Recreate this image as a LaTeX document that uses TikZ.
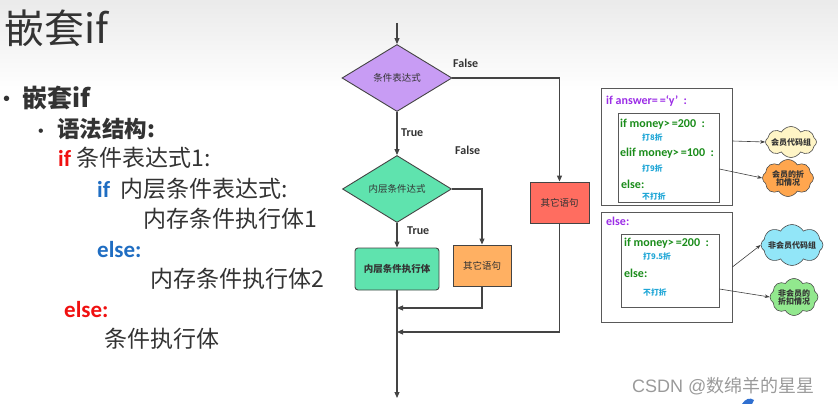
\documentclass[tikz,border=0pt]{standalone}
\usepackage{fontspec}
\setmainfont{Noto Sans CJK SC}
\newfontfamily\lat{Carlito}
\newfontfamily\wm{Liberation Sans}
\usetikzlibrary{shapes.geometric,shapes.symbols,arrows.meta}

\definecolor{ink}{HTML}{333333}
\definecolor{flowline}{HTML}{444444}
\definecolor{ifred}{HTML}{F01010}
\definecolor{ifblue}{HTML}{1F6DC2}
\definecolor{purplefill}{HTML}{C89CF4}
\definecolor{mintfill}{HTML}{5FE3AE}
\definecolor{orangefill}{HTML}{FFB062}
\definecolor{redfill}{HTML}{FF6D60}
\definecolor{codepurple}{HTML}{9B2DE6}
\definecolor{codegreen}{HTML}{1A8C1A}
\definecolor{codecyan}{HTML}{1FA6D6}
\definecolor{cloudyellow}{HTML}{FFF5C6}
\definecolor{cloudorange}{HTML}{FFA64E}
\definecolor{cloudblue}{HTML}{92E6F8}
\definecolor{cloudgreen}{HTML}{92E88E}
\definecolor{markgray}{HTML}{9A9A9A}
\definecolor{logoblue}{HTML}{2F6FD0}

\newcommand{\fsz}[1]{\fontsize{#1}{#1}\selectfont}

\tikzset{
  txt/.style={anchor=base west, inner sep=0pt, text=ink},
  flow/.style={draw=flowline, line width=1.1pt, -{Triangle[length=6pt,width=5pt]}},
  decision/.style={diamond, draw=flowline, line width=0.9pt, inner sep=0pt,
    aspect=1.6, font=\fsz{9.5}, text=ink},
  procbox/.style={rectangle, draw=flowline, line width=0.9pt, inner sep=0pt,
    font=\fsz{9.5}, text=ink},
  tflabel/.style={anchor=base west, inner sep=0pt, font=\lat\bfseries\fsz{12}, text=ink},
  panel/.style={rectangle, draw=black!65, line width=0.8pt, inner sep=0pt},
  code/.style={anchor=base west, inner sep=0pt, font=\lat\bfseries\fsz{12}},
  note/.style={anchor=base west, inner sep=0pt, font=\bfseries\fsz{7.8}, text=codecyan},
  bubble/.style={cloud, cloud puffs=8, cloud puff arc=120, cloud ignores aspect,
    draw=black!70, line width=0.6pt, inner sep=0pt},
  bubbletext/.style={font=\bfseries\fsz{8}, text=ink, align=center},
  link/.style={draw=black!75, line width=0.6pt, -{Stealth[length=5pt,width=3.5pt]}}
}

\begin{document}
\begin{tikzpicture}[x=1pt,y=-1pt]
\useasboundingbox (0,0) rectangle (838,404);
\shade[top color=gray!16, bottom color=white] (0,0) rectangle (838,92);

% ---------- slide text ----------
\node[txt] (title) at (4,44) {\fsz{40}嵌套if};
\node[txt] (b1) at (3,106) {\wm\fsz{20}•};
\node[txt] (h1) at (22,107) {\fsz{25}\bfseries 嵌套if};
\node[txt] (b2) at (38,136) {\wm\fsz{16}•};
\node[txt] (h2) at (57,137) {\fsz{22.5}\bfseries 语法结构:};

\node[txt] (l1) at (58,166) {\fsz{23}{\lat\bfseries\color{ifred}\fsz{23}if} 条件表达式1:};
\node[txt] (l2) at (97,197) {\fsz{23}{\lat\bfseries\color{ifblue}\fsz{23}if}\hspace{10pt}内层条件表达式:};
\node[txt] (l3) at (143,227) {\fsz{23}内存条件执行体1};
\node[txt] (l4) at (97,257) {\lat\bfseries\fsz{23}\color{ifblue}else:};
\node[txt] (l5) at (150,287) {\fsz{23}内存条件执行体2};
\node[txt] (l6) at (64,317) {\lat\bfseries\fsz{23}\color{ifred}else:};
\node[txt] (l7) at (104,347) {\fsz{23}条件执行体};

% ---------- flowchart ----------
\coordinate (start) at (397,23);
\node[decision, fill=purplefill, minimum width=110pt, minimum height=67pt] (d1) at (397,78) {条件表达式};
\node[decision, fill=mintfill, minimum width=109pt, minimum height=67pt] (d2) at (397,189) {内层条件达式};
\node[procbox, fill=mintfill, rounded corners=3pt, minimum width=84pt, minimum height=42pt] (body) at (397,269) {\bfseries 内层条件执行体};
\node[procbox, fill=orangefill, minimum width=58pt, minimum height=41pt] (other2) at (482,265.5) {其它语句};
\node[procbox, fill=redfill, minimum width=59pt, minimum height=41pt] (other1) at (559.5,202.5) {其它语句};
\coordinate (j1) at (397,308);
\coordinate (j2) at (397,332);
\coordinate (finish) at (397,398);

\draw[flow] (start) -- (d1.north);
\draw[flow] (d1.east) -| (other1.north);
\draw[flow] (d1.south) -- (d2.north);
\draw[flow] (d2.east) -| (other2.north);
\draw[flow] (d2.south) -- (body.north);
\draw[flow] (other2.south) |- (j1);
\draw[flow] (other1.south) |- (j2);
\draw[flow] (body.south) -- (finish);

\node[tflabel] (f1) at (453,67) {False};
\node[tflabel] (t1) at (401,136) {True};
\node[tflabel] (f2) at (455,154) {False};
\node[tflabel] (t2) at (407,234) {True};

% ---------- code panels ----------
\node[panel, minimum width=131pt, minimum height=117pt] (o1) at (666.5,146.5) {};
\node[panel, minimum width=101pt, minimum height=89pt] (i1) at (668.5,157.5) {};
\node[panel, minimum width=131pt, minimum height=110pt] (o2) at (666.5,267) {};
\node[panel, minimum width=98pt, minimum height=73pt] (i2) at (670,270.5) {};

\node[code, text=codepurple] (c1) at (606,104) {if answer=\,=‘y’\ \ :};
\node[code, text=codegreen] (c2) at (620,127) {if money>\,=200\ \ :};
\node[note] (n1) at (642,140) {打8折};
\node[code, text=codegreen] (c3) at (620,156) {elif money>\,=100\ \ :};
\node[note] (n2) at (642,171) {打9折};
\node[code, text=codegreen] (c4) at (621,188) {else:};
\node[note] (n3) at (642,199) {不打折};

\node[code, text=codepurple] (c5) at (606,225) {else:};
\node[code, text=codegreen] (c6) at (624,246) {if money>\,=200\ \ :};
\node[note] (n4) at (643,259) {打9.5折};
\node[code, text=codegreen] (c7) at (624,277) {else:};
\node[note] (n5) at (643,295) {不打折};

% ---------- clouds ----------
\node[bubble, fill=cloudyellow, minimum width=51pt, minimum height=31pt,
  label={[bubbletext]center:会员代码组}] (k1) at (791,142) {};
\node[bubble, fill=cloudorange, minimum width=51pt, minimum height=37pt,
  label={[bubbletext]center:会员的折\\扣情况}] (k2) at (788,178) {};
\node[bubble, fill=cloudblue, minimum width=62pt, minimum height=41pt,
  label={[bubbletext]center:非会员代码组}] (k3) at (792,245) {};
\node[bubble, fill=cloudgreen, minimum width=48pt, minimum height=37pt,
  label={[bubbletext]center:非会员的\\折扣情况}] (k4) at (794,297) {};

\draw[link] ([yshift=5.5pt]o1.east) -- (k1.west);
\draw[link] ([yshift=-11.5pt]i1.east) -- (k2.west);
\draw[link] (o2.east) -- (k3.west);
\draw[link] ([yshift=-18.5pt]i2.east) -- (k4.west);

% ---------- signature ----------
\node[anchor=base west, inner sep=0pt, text=markgray] (sig) at (632,392) {\wm\fsz{18}CSDN @\rmfamily 数绵羊的星星};
\fill[logoblue] (742,404) .. controls (745,399) and (750,397) .. (754,400) -- (752,404) -- cycle;
\end{tikzpicture}
\end{document}
